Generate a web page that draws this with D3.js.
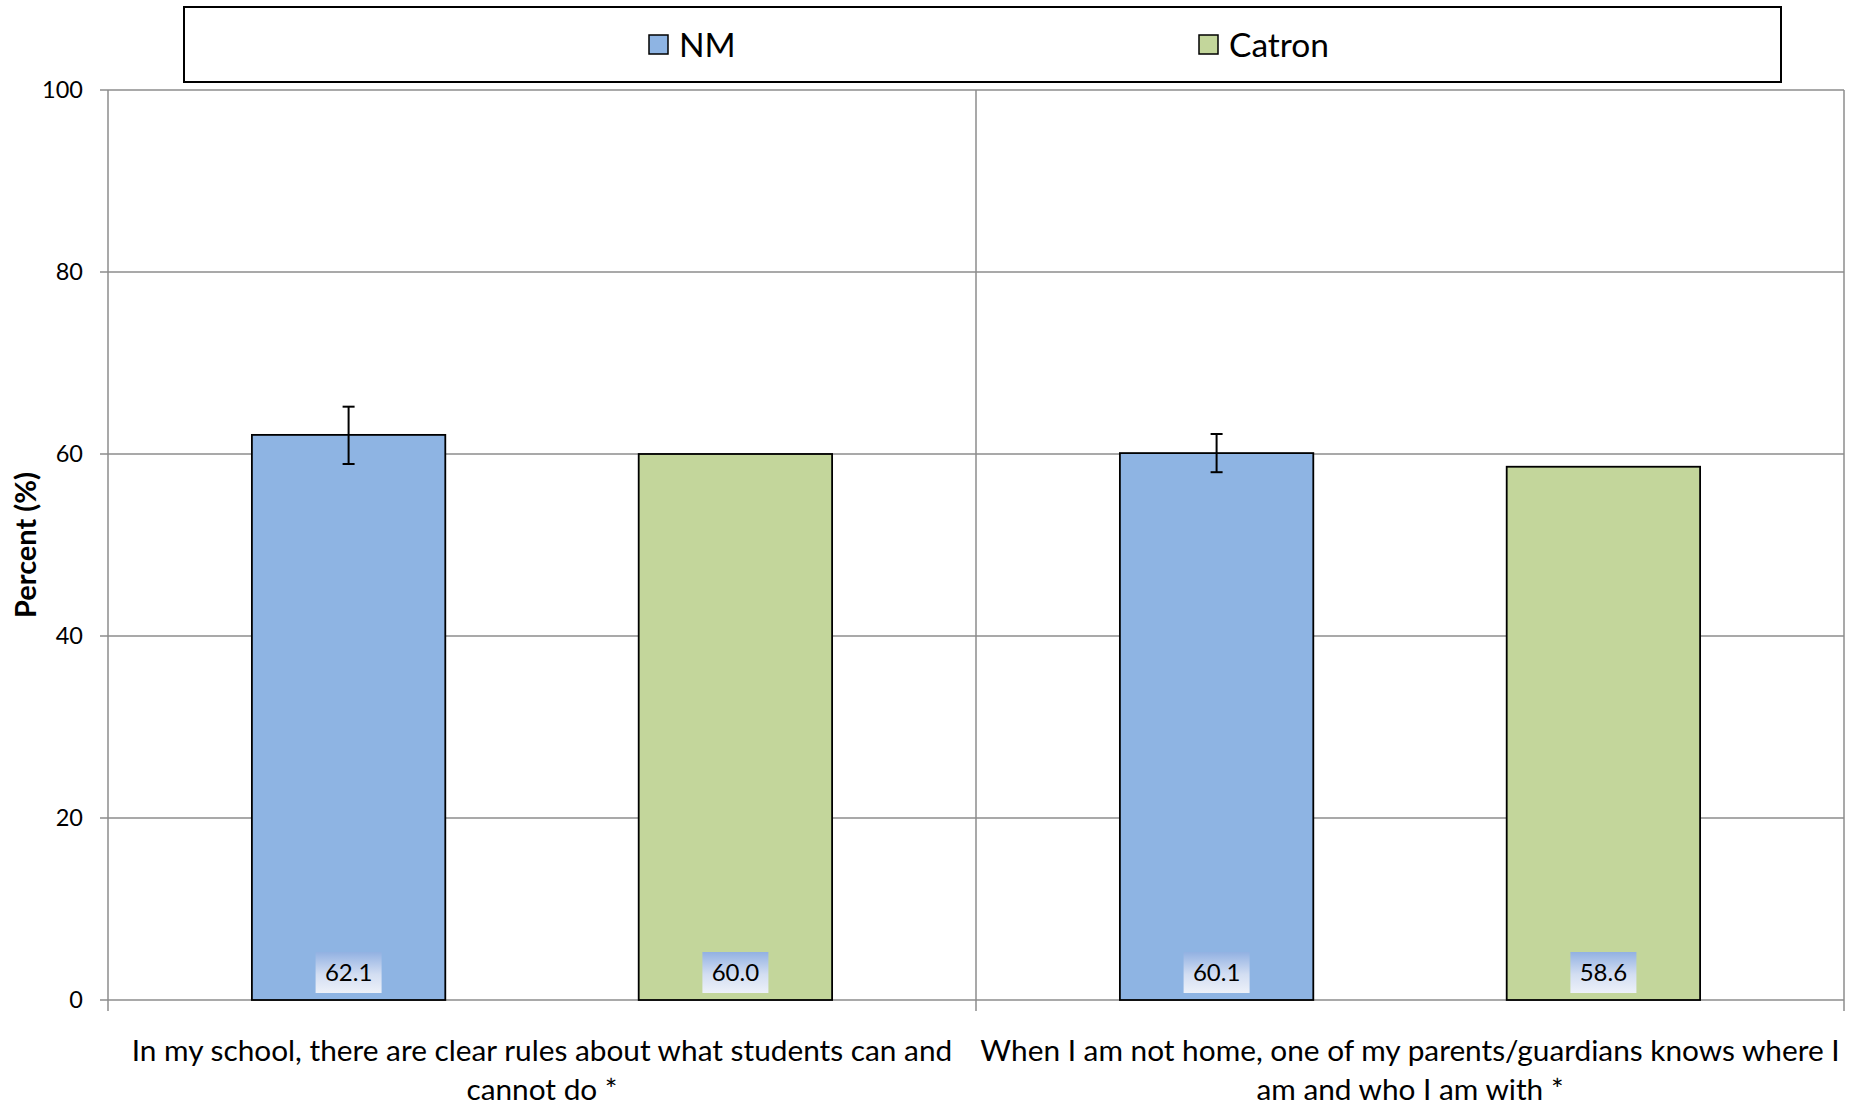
<!DOCTYPE html>
<html><head><meta charset="utf-8">
<script src="https://cdn.jsdelivr.net/npm/d3@7"></script>
<style>body{margin:0;background:#fff;} svg{display:block;font-family:Lato,"Open Sans",sans-serif;}</style>
</head><body>
<svg id="c" width="1858" height="1105"></svg>
<script>
const categories = [
  ["In my school, there are clear rules about what students can and", "cannot do *"],
  ["When I am not home, one of my parents/guardians knows where I", "am and who I am with *"]
];
const seriesNames = ["NM", "Catron"];
const nmValues = [62.1, 60.1];
const catronValues = [60.0, 58.6];
const nmLow = [58.9, 58.0];
const nmHigh = [65.2, 62.2];
const yTicks = [0, 20, 40, 60, 80, 100];
const colors = {NM: "#8EB4E3", Catron: "#C3D69B"};

(function(){
const svg = d3.select("#c");
const pLeft = 108, pRight = 1844, pTop = 90, pBottom = 1000;
const x0 = d3.scaleBand().domain([0,1]).range([pLeft, pRight]).padding(0);
const x1 = d3.scaleBand().domain(seriesNames).range([0, x0.bandwidth()]).paddingInner(0.5).paddingOuter(0.372);
const y = d3.scaleLinear().domain([0,100]).range([pBottom, pTop]);

const defs = svg.append("defs");
const g = defs.append("linearGradient").attr("id","lblgrad").attr("x1",0).attr("y1",0).attr("x2",0).attr("y2",1);
g.append("stop").attr("offset","0%").attr("stop-color","#92B1E2");
g.append("stop").attr("offset","55%").attr("stop-color","#D3DEF2");
g.append("stop").attr("offset","100%").attr("stop-color","#EDF1F9");

svg.append("g").selectAll("line").data(yTicks).join("line")
  .attr("x1", pLeft-8).attr("x2", pRight).attr("y1", d=>y(d)).attr("y2", d=>y(d))
  .attr("stroke", "#8c8c8c").attr("stroke-width", 1.5);
const bounds = [pLeft, pLeft + x0.bandwidth(), pRight];
svg.append("g").selectAll("line").data(bounds).join("line")
  .attr("x1", d=>d).attr("x2", d=>d).attr("y1", pTop).attr("y2", pBottom+11)
  .attr("stroke", "#8c8c8c").attr("stroke-width", 1.5);

svg.append("g").selectAll("text").data(yTicks).join("text")
  .attr("x", 83).attr("y", d=>y(d)).attr("dy","0.35em").attr("text-anchor","end")
  .attr("font-size", 23.5).attr("fill","#000").text(d=>d);

svg.append("text").attr("transform","translate(36,545) rotate(-90)").attr("text-anchor","middle")
  .attr("font-size", 29).attr("font-weight","bold").text("Percent (%)");

const data = [];
categories.forEach((c,i)=>{
  data.push({cat:i, s:"NM", v:nmValues[i], lo:nmLow[i], hi:nmHigh[i]});
  data.push({cat:i, s:"Catron", v:catronValues[i]});
});
svg.append("g").selectAll("rect").data(data).join("rect")
  .attr("x", d=>x0(d.cat)+x1(d.s)).attr("width", x1.bandwidth())
  .attr("y", d=>y(d.v)).attr("height", d=>y(0)-y(d.v))
  .attr("fill", d=>colors[d.s]).attr("stroke","#000").attr("stroke-width",1.8);

const eb = svg.append("g").attr("stroke","#000").attr("stroke-width",2);
data.filter(d=>d.lo!==undefined).forEach(d=>{
  const cx = x0(d.cat)+x1(d.s)+x1.bandwidth()/2;
  eb.append("line").attr("x1",cx).attr("x2",cx).attr("y1",y(d.hi)).attr("y2",y(d.lo));
  eb.append("line").attr("x1",cx-6).attr("x2",cx+6).attr("y1",y(d.hi)).attr("y2",y(d.hi));
  eb.append("line").attr("x1",cx-6).attr("x2",cx+6).attr("y1",y(d.lo)).attr("y2",y(d.lo));
});

const lbl = svg.append("g");
data.forEach(d=>{
  const cx = x0(d.cat)+x1(d.s)+x1.bandwidth()/2;
  lbl.append("rect").attr("x", cx-33).attr("y", 952).attr("width",66).attr("height",41)
    .attr("fill","url(#lblgrad)");
  lbl.append("text").attr("x", cx).attr("y", 973).attr("dy","0.35em").attr("text-anchor","middle")
    .attr("font-size", 24).text(d.v.toFixed(1));
});

categories.forEach((lines,i)=>{
  const cx = x0(i)+x0.bandwidth()/2;
  const t = svg.append("text").attr("text-anchor","middle").attr("font-size",29.8);
  lines.forEach((ln,j)=>{
    t.append("tspan").attr("x",cx).attr("y",1061+j*39).text(ln);
  });
});

svg.append("rect").attr("x",184).attr("y",7).attr("width",1597).attr("height",75)
  .attr("fill","#fff").attr("stroke","#000").attr("stroke-width",2);
const legX = [649, 1199];
seriesNames.forEach((s,i)=>{
  svg.append("rect").attr("x",legX[i]).attr("y",35).attr("width",19).attr("height",19)
    .attr("fill",colors[s]).attr("stroke","#000").attr("stroke-width",1.5);
  svg.append("text").attr("x",legX[i]+30).attr("y",45).attr("dy","0.35em")
    .attr("font-size",33.5).text(s);
});
})();
</script>
</body></html>
